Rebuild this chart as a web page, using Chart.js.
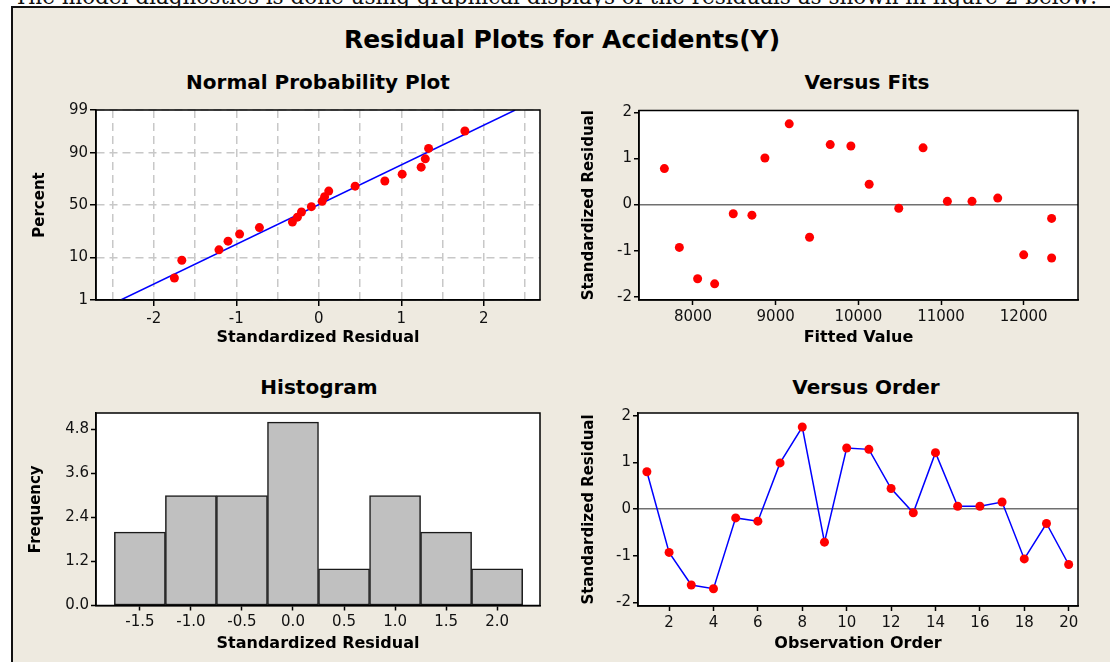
<!DOCTYPE html>
<html>
<head>
<meta charset="utf-8">
<title>Residual Plots for Accidents(Y)</title>
<script src="https://cdn.jsdelivr.net/npm/chart.js@4.4.1/dist/chart.umd.min.js"></script>
<style>
  body { margin: 0; width: 1110px; height: 662px; background: #fff; position: relative; overflow: hidden; font-family: 'DejaVu Sans', sans-serif; }
  #intro { position: absolute; left: 14px; top: -13px; font-family: 'DejaVu Serif', serif; font-size: 21.5px; line-height: 20px; white-space: nowrap; color: #111; }
  #frame { position: absolute; left: 11px; top: 6px; width: 1110px; height: 670px; background: #EEEAE0; border-top: 2px solid #111; border-left: 2px solid #111; }
  .lbl { position: absolute; transform: translate(-50%, -50%); white-space: nowrap; font-weight: bold; color: #000; line-height: 1; }
  canvas { position: absolute; }
</style>
</head>
<body>
<div id="intro">The model diagnostics is done using graphical displays of the residuals as shown in figure 2 below:</div>
<div id="frame"></div>
<div class="lbl" style="left:562px; top:39px; font-size:25px;">Residual Plots for Accidents(Y)</div>
<div class="lbl" style="left:318px; top:82px; font-size:20px;">Normal Probability Plot</div>
<div class="lbl" style="left:867px; top:82px; font-size:20px;">Versus Fits</div>
<div class="lbl" style="left:319px; top:387px; font-size:20px;">Histogram</div>
<div class="lbl" style="left:866px; top:387px; font-size:20px;">Versus Order</div>
<canvas id="probChart"></canvas>
<canvas id="fitsChart"></canvas>
<canvas id="histChart"></canvas>
<canvas id="orderChart"></canvas>
<script>
// normal probability plot
const percentTicks = [1, 10, 50, 90, 99];
const probXTicks = [-2.5, -2, -1.5, -1, -0.5, 0, 0.5, 1, 1.5, 2, 2.5];
const probResiduals = [-1.75, -1.66, -1.21, -1.10, -0.96, -0.72, -0.32, -0.26, -0.21, -0.09, 0.04, 0.07, 0.12, 0.44, 0.80, 1.01, 1.24, 1.29, 1.33, 1.77];
const probPercents = [3.7, 8.8, 13.6, 18.8, 23.8, 29.0, 33.8, 38.3, 43.2, 48.4, 53.6, 58.1, 63.3, 67.8, 72.2, 77.5, 82.3, 87.1, 91.7, 96.5];
const fitLineResidual = [-2.40, 2.38];
const fitLinePercent = [1, 99];

// versus fits
const fitsXTicks = [8000, 9000, 10000, 11000, 12000];
const residualTicks = [-2, -1, 0, 1, 2];
const fittedValues = [7654, 7835, 8056, 8262, 8487, 8713, 8870, 9164, 9410, 9660, 9910, 10131, 10489, 10783, 11077, 11375, 11686, 12000, 12338, 12338];
const fitsResiduals = [0.78, -0.93, -1.61, -1.72, -0.20, -0.23, 1.01, 1.75, -0.71, 1.30, 1.27, 0.44, -0.08, 1.23, 0.07, 0.07, 0.14, -1.09, -0.30, -1.16];

// histogram
const histBins = [-1.5, -1.0, -0.5, 0.0, 0.5, 1.0, 1.5, 2.0];
const histCounts = [2, 3, 3, 5, 1, 3, 2, 1];
const histYTicks = [0, 1.2, 2.4, 3.6, 4.8];

// versus order
const observationOrder = [1, 2, 3, 4, 5, 6, 7, 8, 9, 10, 11, 12, 13, 14, 15, 16, 17, 18, 19, 20];
const orderResiduals = [0.80, -0.93, -1.63, -1.71, -0.19, -0.26, 0.99, 1.76, -0.71, 1.31, 1.28, 0.44, -0.08, 1.21, 0.06, 0.06, 0.15, -1.07, -0.31, -1.19];
const orderXTicks = [2, 4, 6, 8, 10, 12, 14, 16, 18, 20];

// inverse normal cdf (Acklam) for the probability axis
function probit(p) {
    const a = [-3.969683028665376e+01, 2.209460984245205e+02, -2.759285104469687e+02, 1.383577518672690e+02, -3.066479806614716e+01, 2.506628277459239e+00];
    const b = [-5.447609879822406e+01, 1.615858368580409e+02, -1.556989798598866e+02, 6.680131188771972e+01, -1.328068155288572e+01];
    const c = [-7.784894002430293e-03, -3.223964580411365e-01, -2.400758277161838e+00, -2.549732539343734e+00, 4.374664141464968e+00, 2.938163982698783e+00];
    const d = [7.784695709041462e-03, 3.224671290700398e-01, 2.445134137142996e+00, 3.754408661907416e+00];
    const pl = 0.02425;
    let q, r;
    if (p < pl) {
        q = Math.sqrt(-2 * Math.log(p));
        return (((((c[0]*q+c[1])*q+c[2])*q+c[3])*q+c[4])*q+c[5]) / ((((d[0]*q+d[1])*q+d[2])*q+d[3])*q+1);
    }
    if (p > 1 - pl) {
        q = Math.sqrt(-2 * Math.log(1 - p));
        return -(((((c[0]*q+c[1])*q+c[2])*q+c[3])*q+c[4])*q+c[5]) / ((((d[0]*q+d[1])*q+d[2])*q+d[3])*q+1);
    }
    q = p - 0.5;
    r = q * q;
    return (((((a[0]*r+a[1])*r+a[2])*r+a[3])*r+a[4])*r+a[5])*q / (((((b[0]*r+b[1])*r+b[2])*r+b[3])*r+b[4])*r+1);
}

Chart.defaults.font.family = "'DejaVu Sans', sans-serif";
Chart.defaults.color = '#111';
Chart.defaults.animation = false;
Chart.defaults.plugins.legend.display = false;
Chart.defaults.plugins.tooltip.enabled = false;

const plotBox = {
    id: 'plotBox',
    beforeDraw(chart) {
        const a = chart.chartArea, ctx = chart.ctx;
        ctx.save();
        ctx.fillStyle = '#fff';
        ctx.fillRect(a.left, a.top, a.right - a.left, a.bottom - a.top);
        ctx.restore();
    },
    afterDraw(chart) {
        const a = chart.chartArea, ctx = chart.ctx;
        ctx.save();
        ctx.strokeStyle = '#000';
        ctx.lineWidth = 1.5;
        ctx.strokeRect(a.left, a.top, a.right - a.left, a.bottom - a.top);
        ctx.restore();
    }
};

const black = '#000';
const none = 'rgba(0,0,0,0)';

function fixTicks(list) {
    return function(scale) {
        scale.ticks = list.map(v => ({ value: v }));
    };
}

// places the canvas so the plot area lands on the given box
function panel(id, area, xTitleY, yTitleX, type, datasets, xScale, yScale, xTitle, yTitle) {
    const left = Math.round(yTitleX - 20);
    const top = Math.round(area.top - 14);
    const right = Math.round(area.right + 22);
    const bottom = Math.round(xTitleY + 14);
    const canvas = document.getElementById(id);
    canvas.width = right - left;
    canvas.height = bottom - top;
    canvas.style.left = left + 'px';
    canvas.style.top = top + 'px';

    const padLeft = yTitleX - 9 - left;
    const yWidth = area.left - left - padLeft;
    const padTop = area.top - top;
    const padRight = right - area.right;
    const padBottom = bottom - (xTitleY + 9.6);
    const xHeight = (bottom - padBottom) - area.bottom;

    xScale.afterFit = function(scale) { scale.height = xHeight; };
    yScale.afterFit = function(scale) { scale.width = yWidth; };
    xScale.title = { display: true, text: xTitle, color: black, padding: 0, font: { size: 16, weight: 'bold' } };
    yScale.title = { display: true, text: yTitle, color: black, padding: 0, font: { size: 15, weight: 'bold' } };
    xScale.border = Object.assign({ display: true, color: black, width: 1.5 }, xScale.border || {});
    yScale.border = Object.assign({ display: true, color: black, width: 1.5 }, yScale.border || {});

    return new Chart(canvas, {
        type: type,
        data: { datasets: datasets },
        options: {
            responsive: false,
            devicePixelRatio: 1,
            layout: { padding: { left: padLeft, top: padTop, right: padRight, bottom: padBottom } },
            scales: { x: xScale, y: yScale }
        },
        plugins: [plotBox]
    });
}

function baseX(min, max, ticks, labelFn) {
    return {
        type: 'linear', min: min, max: max, offset: false,
        afterBuildTicks: fixTicks(ticks),
        ticks: { autoSkip: false, maxRotation: 0, padding: 3, color: '#111', font: { size: 15 }, callback: labelFn },
        grid: { drawOnChartArea: false, offset: false, tickLength: 5, tickWidth: 1.5, tickColor: black }
    };
}

function baseY(min, max, ticks, labelFn) {
    return {
        type: 'linear', min: min, max: max,
        afterBuildTicks: fixTicks(ticks),
        ticks: { autoSkip: false, padding: 2, color: '#111', font: { size: 15 }, callback: labelFn },
        grid: { drawOnChartArea: false, tickLength: 5, tickWidth: 1.5, tickColor: black }
    };
}

// Normal Probability Plot
const probX = baseX(-2.70, 2.68, probXTicks, v => Number.isInteger(v) ? String(v) : '');
probX.grid = {
    drawOnChartArea: true, color: '#C8C8C8', lineWidth: 1.5,
    tickLength: 6, tickWidth: 1.5,
    tickColor: ctx => (ctx.tick && Number.isInteger(ctx.tick.value)) ? black : none
};
probX.border = { dash: [8, 5] };
probX.ticks.padding = 4;
const probY = baseY(probit(0.01), probit(0.99), percentTicks.map(p => probit(p / 100)), (v, i) => String(percentTicks[i]));
probY.grid = { drawOnChartArea: true, color: '#C8C8C8', lineWidth: 1.5, tickLength: 6, tickWidth: 1.5, tickColor: black };
probY.border = { dash: [8, 5] };

panel('probChart', { left: 96, top: 110, right: 540, bottom: 300 }, 338, 40, 'scatter', [
    {
        data: probResiduals.map((r, i) => ({ x: r, y: probit(probPercents[i] / 100) })),
        pointRadius: 4.5, pointBackgroundColor: '#FF0000', pointBorderColor: '#FF0000', pointBorderWidth: 0
    },
    {
        data: fitLineResidual.map((r, i) => ({ x: r, y: probit(fitLinePercent[i] / 100) })),
        showLine: true, borderColor: '#0000FF', borderWidth: 1.5, pointRadius: 0, order: 1
    }
], probX, probY, 'Standardized Residual', 'Percent');

// Versus Fits
const fitsY = baseY(-2.07, 2.04, residualTicks, v => String(v));
fitsY.grid = { drawOnChartArea: true, lineWidth: 1.5, tickLength: 5, tickWidth: 1.5, tickColor: black,
    color: ctx => (ctx.tick && ctx.tick.value === 0) ? '#707070' : none };

panel('fitsChart', { left: 639, top: 110.5, right: 1078, bottom: 300 }, 338, 589, 'scatter', [
    {
        data: fittedValues.map((f, i) => ({ x: f, y: fitsResiduals[i] })),
        pointRadius: 4.5, pointBackgroundColor: '#FF0000', pointBorderColor: '#FF0000', pointBorderWidth: 0
    }
], baseX(7347, 12657, fitsXTicks, v => String(v)), fitsY, 'Fitted Value', 'Standardized Residual');

// Histogram
panel('histChart', { left: 96, top: 413, right: 540, bottom: 605.5 }, 644, 36, 'bar', [
    {
        data: histBins.map((b, i) => ({ x: b, y: histCounts[i] })),
        backgroundColor: '#C0C0C0', borderColor: '#1A1A1A', borderWidth: 1.5, borderSkipped: false,
        barPercentage: 1, categoryPercentage: 1
    }
], baseX(-1.93, 2.42, histBins, v => v.toFixed(1)), baseY(0, 5.25, histYTicks, v => v.toFixed(1)), 'Standardized Residual', 'Frequency');

// Versus Order
const orderY = baseY(-2.08, 2.06, residualTicks, v => String(v));
orderY.grid = { drawOnChartArea: true, lineWidth: 1.5, tickLength: 5, tickWidth: 1.5, tickColor: black,
    color: ctx => (ctx.tick && ctx.tick.value === 0) ? '#707070' : none };

panel('orderChart', { left: 638, top: 413, right: 1078, bottom: 606 }, 644, 589, 'scatter', [
    {
        data: observationOrder.map((o, i) => ({ x: o, y: orderResiduals[i] })),
        showLine: true, borderColor: '#0000FF', borderWidth: 1.5, tension: 0,
        pointRadius: 4.5, pointBackgroundColor: '#FF0000', pointBorderColor: '#FF0000', pointBorderWidth: 0
    }
], baseX(0.6, 20.42, orderXTicks, v => String(v)), orderY, 'Observation Order', 'Standardized Residual');
</script>
</body>
</html>
